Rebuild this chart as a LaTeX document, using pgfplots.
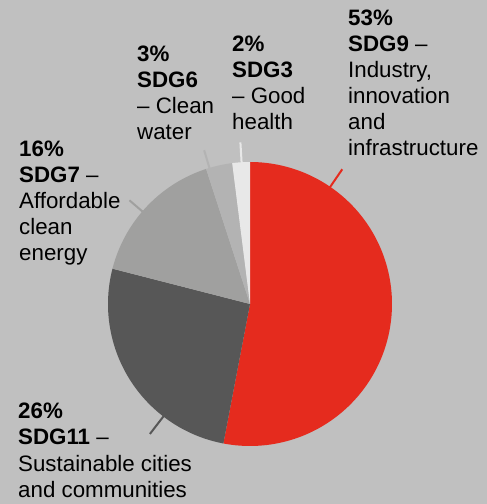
\documentclass[border=0pt]{standalone}
\usepackage{pgfplots}
\pgfplotsset{compat=1.18}
\usepgfplotslibrary{polar}
\usepackage{fontspec}
\setmainfont{Liberation Sans}

\definecolor{bg}{HTML}{C0C0C0}
\definecolor{sdgnine}{HTML}{E52B1E}
\definecolor{sdgeleven}{HTML}{575757}
\definecolor{sdgseven}{HTML}{A0A09F}
\definecolor{sdgsix}{HTML}{B3B3B3}
\definecolor{sdgthree}{HTML}{E8E8E8}

% shares in percent, clockwise from 12 o'clock
\def\vNine{53}
\def\vEleven{26}
\def\vSeven{16}
\def\vSix{3}
\def\vThree{2}
\pgfmathsetmacro{\aA}{90}
\pgfmathsetmacro{\aB}{\aA-3.6*\vNine}
\pgfmathsetmacro{\aC}{\aB-3.6*\vEleven}
\pgfmathsetmacro{\aD}{\aC-3.6*\vSeven}
\pgfmathsetmacro{\aE}{\aD-3.6*\vSix}
\pgfmathsetmacro{\aF}{\aE-3.6*\vThree}

\newcommand{\lbl}[3]{\node[anchor=base west, inner sep=0pt] at (#1bp,{504bp-#2bp}) {#3};}

\begin{document}
\begin{tikzpicture}[font=\fontsize{22.4}{26}\selectfont]
\fill[bg] (0,0) rectangle (487bp,504bp);
\begin{polaraxis}[
    at={(250bp,200bp)}, anchor=center,
    width=284bp, height=284bp, scale only axis,
    hide axis, clip=false,
    ymin=0, ymax=1,
  ]
  \addplot[fill=sdgnine, draw=none, domain=\aB:\aA, samples=120] {1} -- (axis cs:0,0) -- cycle;
  \addplot[fill=sdgeleven, draw=none, domain=\aC:\aB, samples=80] {1} -- (axis cs:0,0) -- cycle;
  \addplot[fill=sdgseven, draw=none, domain=\aD:\aC, samples=60] {1} -- (axis cs:0,0) -- cycle;
  \addplot[fill=sdgsix, draw=none, domain=\aE:\aD, samples=20] {1} -- (axis cs:0,0) -- cycle;
  \addplot[fill=sdgthree, draw=none, domain=\aF:\aE, samples=20] {1} -- (axis cs:0,0) -- cycle;
  % leader lines
  \addplot[sdgnine, line width=2bp] coordinates {(55.6,0.98) (55.6,1.15)};
  \addplot[sdgthree, line width=2bp] coordinates {(93.4,0.99) (93.4,1.14)};
  \addplot[sdgsix, line width=2bp] coordinates {(106.6,0.98) (106.6,1.13)};
  \addplot[sdgseven, line width=2bp] coordinates {(139.3,0.98) (139.3,1.12)};
  \addplot[sdgeleven, line width=2bp] coordinates {(232.4,0.98) (232.4,1.155)};
\end{polaraxis}
% labels
\lbl{348}{26}{\textbf{53\%}}
\lbl{348}{52}{\textbf{SDG9} –}
\lbl{348}{78}{Industry,}
\lbl{348}{104}{innovation}
\lbl{348}{130}{and}
\lbl{348}{156}{infrastructure}
\lbl{232}{52}{\textbf{2\%}}
\lbl{232}{78}{\textbf{SDG3}}
\lbl{232}{104}{– Good}
\lbl{232}{130}{health}
\lbl{137}{62}{\textbf{3\%}}
\lbl{137}{88}{\textbf{SDG6}}
\lbl{137}{114}{– Clean}
\lbl{137}{140}{water}
\lbl{19}{157}{\textbf{16\%}}
\lbl{19}{183}{\textbf{SDG7} –}
\lbl{19}{209}{Affordable}
\lbl{19}{235}{clean}
\lbl{19}{261}{energy}
\lbl{18}{419}{\textbf{26\%}}
\lbl{18}{445}{\textbf{SDG11} –}
\lbl{18}{471}{Sustainable cities}
\lbl{18}{497}{and communities}
\end{tikzpicture}
\end{document}
